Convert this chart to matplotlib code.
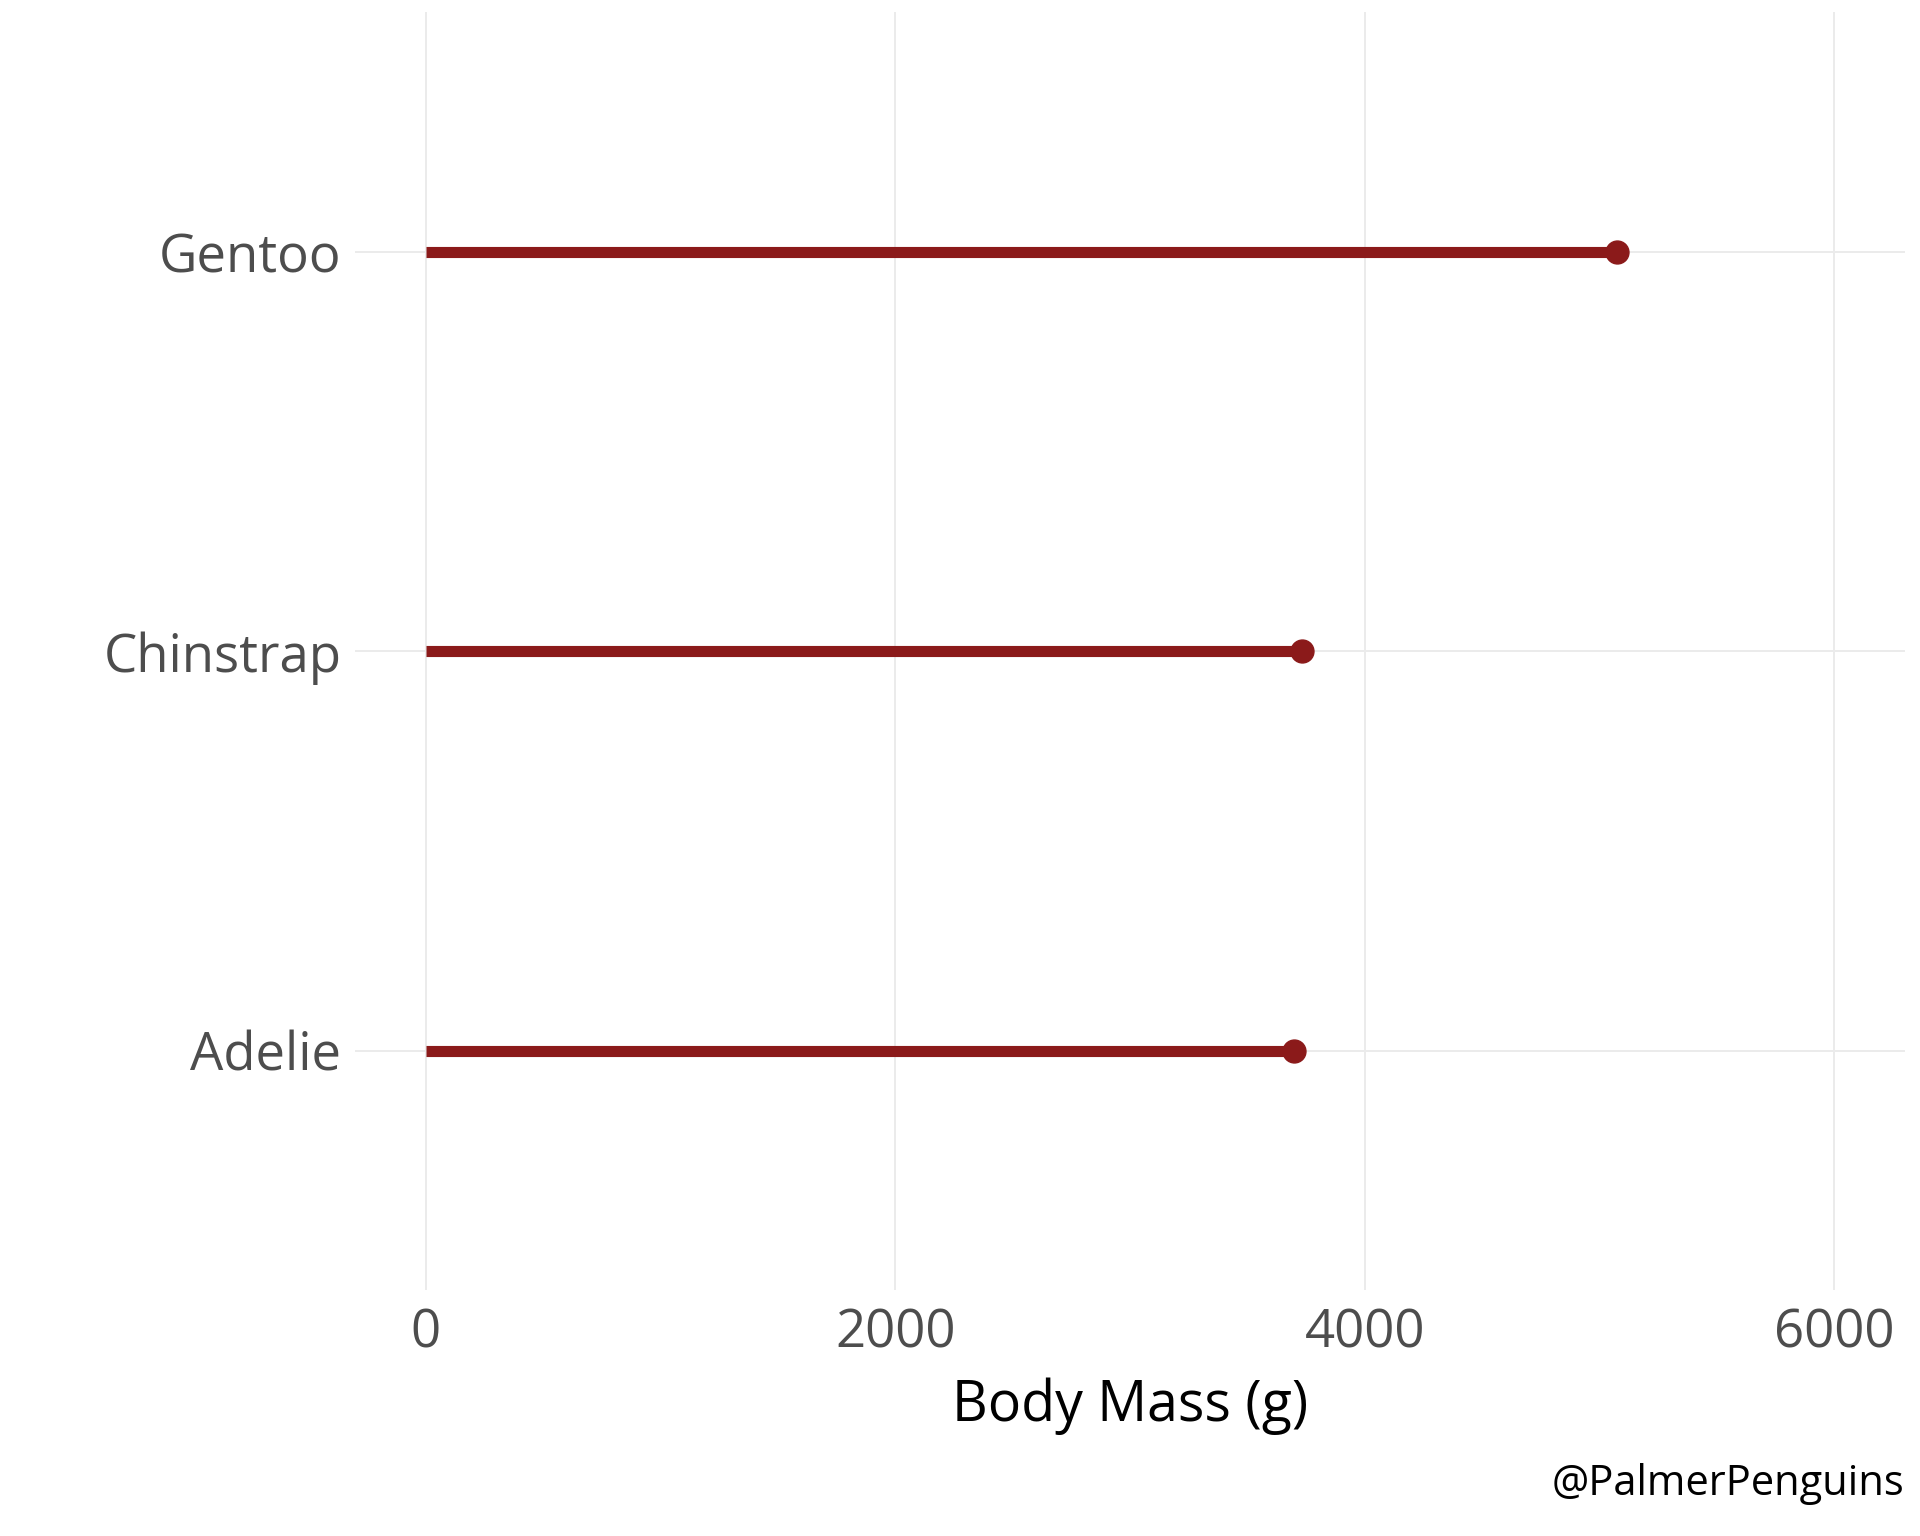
import matplotlib
matplotlib.use("Agg")
import matplotlib.pyplot as plt

# mean body mass per species
species = ["Adelie", "Chinstrap", "Gentoo"]
body_mass = [3700.66, 3733.09, 5076.02]
x_ticks = [0, 2000, 4000, 6000]

plt.rcParams['font.family'] = ['Open Sans', 'DejaVu Sans']

col = "#8B1A1A"
fig = plt.figure(figsize=(19.2, 15.36), dpi=100)
ax = fig.add_axes([0.185, 0.160, 0.807, 0.832])

ypos = list(range(1, len(species) + 1))
ax.hlines(ypos, 0, body_mass, color=col, lw=8, zorder=3)
ax.plot(body_mass, ypos, "o", color=col, ms=16.5, zorder=4)

ax.set_xlim(-300, 6300)
ax.set_ylim(0.4, 3.6)
ax.set_xticks(x_ticks)
ax.set_xticklabels([str(t) for t in x_ticks])
ax.set_yticks(ypos)
ax.set_yticklabels(species)

ax.grid(True, color="#EBEBEB", lw=1.4, zorder=0)
ax.set_axisbelow(True)
for s in ax.spines.values():
    s.set_visible(False)
ax.tick_params(length=0, labelsize=38, colors="#4D4D4D", pad=10)
ax.tick_params(axis="x", pad=12)

ax.set_xlabel("Body Mass (g)", fontsize=40, color="black", labelpad=12)
fig.text(0.9917, 0.034, "@PalmerPenguins", ha="right", va="center",
         fontsize=30, color="black")

fig.savefig("out.png", dpi=100, facecolor="white")
